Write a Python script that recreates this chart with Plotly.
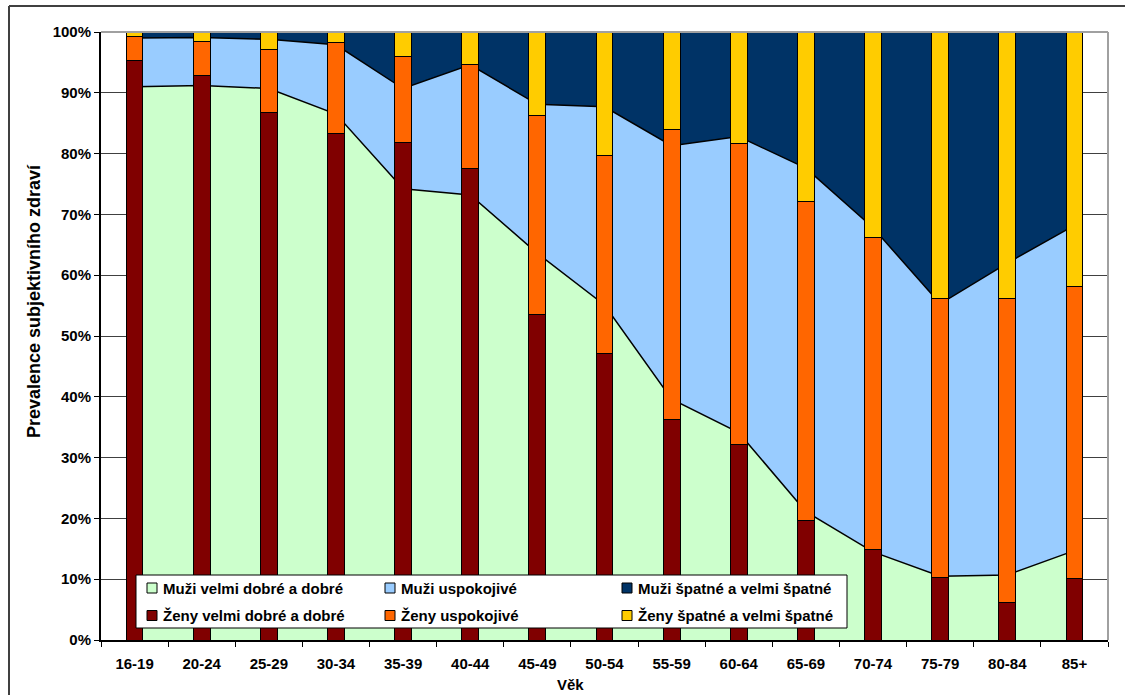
import plotly.graph_objects as go

# Age groups
vek = ["16-19", "20-24", "25-29", "30-34", "35-39", "40-44", "45-49", "50-54",
       "55-59", "60-64", "65-69", "70-74", "75-79", "80-84", "85+"]

# Men (%), shown as stacked areas
muzi_dobre = [91.0, 91.2, 90.7, 86.5, 74.2, 73.2, 63.6, 55.1, 39.6, 34.1, 21.1, 14.5, 10.5, 10.7, 14.7]
muzi_uspokojive = [8.0, 7.9, 8.1, 11.4, 16.5, 21.4, 24.5, 32.6, 41.7, 48.7, 56.5, 53.3, 44.8, 51.3, 53.5]
muzi_spatne = [1.0, 0.9, 1.2, 2.1, 9.3, 5.4, 11.9, 12.3, 18.7, 17.2, 22.4, 32.2, 44.7, 38.0, 31.8]

# Women (%), shown as stacked bars
zeny_dobre = [95.3, 92.8, 86.8, 83.3, 81.8, 77.5, 53.5, 47.1, 36.3, 32.2, 19.7, 14.9, 10.3, 6.1, 10.1]
zeny_uspokojive = [3.9, 5.6, 10.4, 15.0, 14.1, 17.2, 32.7, 32.6, 47.7, 49.5, 52.5, 51.3, 45.9, 50.1, 48.0]
zeny_spatne = [0.8, 1.6, 2.8, 1.7, 4.1, 5.3, 13.8, 20.3, 16.0, 18.3, 27.8, 33.8, 43.8, 43.8, 41.9]

W, H = 1125, 695
ML, MR, MT, MB = 101, 17, 32, 55
PW, PH = W - ML - MR, H - MT - MB


def px(x):
    return (x - ML) / PW


def py(y):
    return (H - MB - y) / PH


FONT = "Liberation Sans, Arial, sans-serif"

fig = go.Figure()

men = [
    ("Muži velmi dobré a dobré", muzi_dobre, "#CCFFCC", 1.5),
    ("Muži uspokojivé", muzi_uspokojive, "#99CCFF", 1.5),
    ("Muži špatné a velmi špatné", muzi_spatne, "#003366", 0),
]
for name, vals, col, lw in men:
    fig.add_trace(go.Scatter(
        x=vek, y=vals, name=name, stackgroup="muzi", mode="lines",
        line=dict(color="#000000", width=lw), fillcolor=col,
        showlegend=False, xaxis="x", yaxis="y",
    ))

women = [
    ("Ženy velmi dobré a dobré", zeny_dobre, "#800000"),
    ("Ženy uspokojivé", zeny_uspokojive, "#FF6600"),
    ("Ženy špatné a velmi špatné", zeny_spatne, "#FFCC00"),
]
for name, vals, col in women:
    fig.add_trace(go.Bar(
        x=vek, y=vals, name=name, width=0.25,
        marker=dict(color=col, line=dict(color="#000000", width=1)),
        showlegend=False, xaxis="x2", yaxis="y2",
    ))

tickfont = dict(family=FONT, size=15, color="#000000", weight="bold")

fig.update_layout(
    width=W, height=H,
    margin=dict(l=ML, r=MR, t=MT, b=MB),
    paper_bgcolor="#FFFFFF", plot_bgcolor="#FFFFFF",
    barmode="stack",
    xaxis=dict(
        type="category", categoryorder="array", categoryarray=vek,
        range=[-0.5, len(vek) - 0.5], tickson="boundaries",
        ticks="outside", ticklen=5, tickcolor="#000000", tickwidth=1,
        showline=True, linecolor="#000000", linewidth=2,
        showgrid=False, zeroline=False, tickfont=tickfont,
        ticklabelstandoff=9,
    ),
    yaxis=dict(
        range=[0, 100], dtick=10, ticksuffix="%",
        ticks="outside", ticklen=5, tickcolor="#000000", tickwidth=1,
        showline=True, linecolor="#000000", linewidth=2,
        showgrid=True, gridcolor="#404040", gridwidth=1,
        zeroline=False, tickfont=tickfont,
    ),
    xaxis2=dict(
        type="category", categoryorder="array", categoryarray=vek,
        range=[-0.5, len(vek) - 0.5], overlaying="x", visible=False,
    ),
    yaxis2=dict(range=[0, 100], overlaying="y", visible=False),
    showlegend=False,
)

shapes = []
annotations = []

# plot-area frame (top and right edges)
shapes.append(dict(type="line", xref="paper", yref="paper", x0=0, x1=1, y0=1, y1=1,
                   line=dict(color="#A0A0A0", width=2), layer="above"))
shapes.append(dict(type="line", xref="paper", yref="paper", x0=1, x1=1, y0=0, y1=1,
                   line=dict(color="#A0A0A0", width=2), layer="above"))

# outer chart border
shapes.append(dict(type="line", xref="paper", yref="paper", x0=px(9), x1=px(W + 5),
                   y0=py(6), y1=py(6), line=dict(color="#404040", width=2), layer="above"))
shapes.append(dict(type="line", xref="paper", yref="paper", x0=px(9), x1=px(9),
                   y0=py(6), y1=py(H + 5), line=dict(color="#404040", width=2), layer="above"))

# legend box
shapes.append(dict(type="rect", xref="paper", yref="paper", x0=px(136), x1=px(847),
                   y0=py(628), y1=py(575), fillcolor="#FFFFFF",
                   line=dict(color="#000000", width=1), layer="above"))

legend_items = [men[0], men[1], men[2], women[0], women[1], women[2]]
col_sq = [147, 385, 622]
row_y = [588, 615.5]
for i, item in enumerate(legend_items):
    name, col = item[0], item[2]
    r, c = divmod(i, 3)
    x0 = col_sq[c]
    yc = row_y[r]
    shapes.append(dict(type="rect", xref="paper", yref="paper",
                       x0=px(x0), x1=px(x0 + 10), y0=py(yc + 5), y1=py(yc - 5),
                       fillcolor=col, line=dict(color="#000000", width=1), layer="above"))
    annotations.append(dict(xref="paper", yref="paper", x=px(x0 + 14), y=py(yc),
                            xanchor="left", yanchor="middle", showarrow=False,
                            text=name, font=dict(family=FONT, size=15, color="#000000", weight="bold")))

# axis titles
annotations.append(dict(xref="paper", yref="paper", x=px(570), y=py(684),
                        xanchor="center", yanchor="middle", showarrow=False, text="Věk",
                        font=dict(family=FONT, size=15, color="#000000", weight="bold")))
annotations.append(dict(xref="paper", yref="paper", x=px(34), y=py(301),
                        xanchor="center", yanchor="middle", showarrow=False, textangle=-90,
                        text="Prevalence subjektivního zdraví",
                        font=dict(family=FONT, size=18, color="#000000", weight="bold")))

fig.update_layout(shapes=shapes, annotations=annotations)

fig.write_html("out.html")
